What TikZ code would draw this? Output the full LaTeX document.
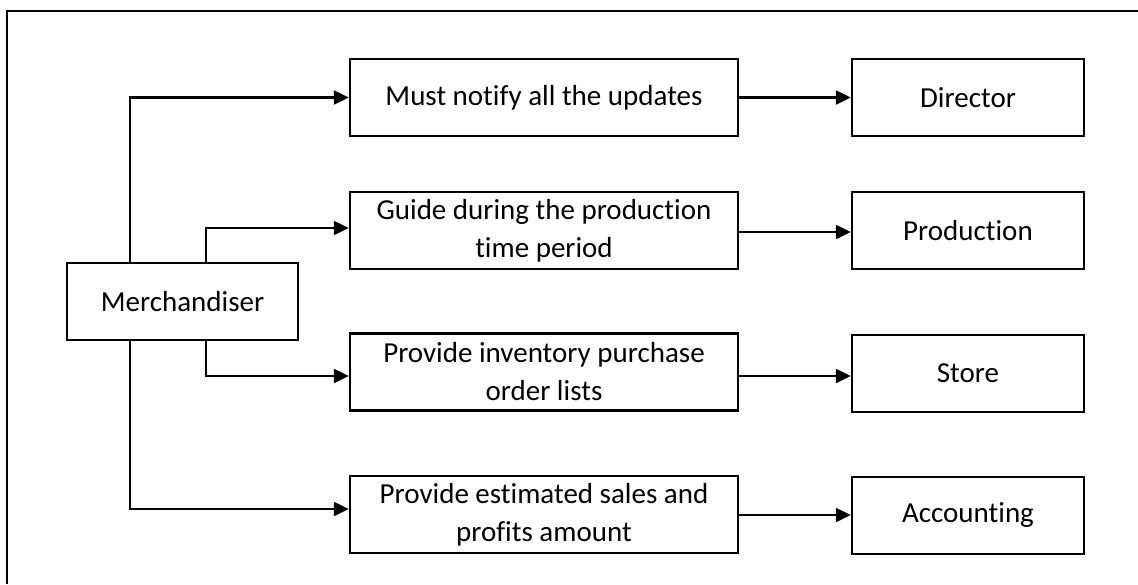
\documentclass[tikz,border=0pt]{standalone}
\usepackage{fontspec}
\setmainfont{Carlito}[Ligatures={NoCommon}]
\usetikzlibrary{arrows.meta}
\begin{document}
\begin{tikzpicture}[x=1pt,y=-1pt,
  box/.style={draw=black,line width=2.5pt,minimum height=77pt,inner sep=0pt,align=center,
    font=\fontsize{29}{38}\selectfont},
  midbox/.style={box,minimum width=388pt},
  endbox/.style={box,minimum width=232pt},
  arr/.style={draw=black,line width=2.5pt,-{Triangle[length=15pt,width=14pt]}}]
\useasboundingbox (0,0) rectangle (1138,584);
\draw[line width=2.5pt] (7,584) -- (7,11) -- (1138,11);
\node[box,minimum width=231pt] (m) at (182.5,301.5) {Merchandiser};
\node[midbox] (b1) at (544,97.5) {Must notify all the updates};
\node[midbox] (b2) at (544,230.5) {Guide during the production\\time period};
\node[midbox] (b3) at (544,372) {Provide inventory purchase\\order lists};
\node[midbox] (b4) at (544,514.5) {Provide estimated sales and\\profits amount};
\node[endbox] (d) at (968,97.5) {Director};
\node[endbox] (p) at (968,230.5) {Production};
\node[endbox] (s) at (968,373.5) {Store};
\node[endbox] (a) at (968,515.5) {Accounting};
\coordinate (v1) at (130,0);
\coordinate (v2) at (206,0);
\coordinate (y2) at (0,228);
\coordinate (y3) at (0,376);
\coordinate (y4) at (0,509);
\coordinate (z2) at (0,232);
\coordinate (z4) at (0,515);
\draw[arr] (v1 |- m.north) |- (b1.west);
\draw[arr] (v2 |- m.north) |- (b2.west |- y2);
\draw[arr] (v2 |- m.south) |- (b3.west |- y3);
\draw[arr] (v1 |- m.south) |- (b4.west |- y4);
\draw[arr] (b1.east) -- (d.west);
\draw[arr] (b2.east |- z2) -- (p.west |- z2);
\draw[arr] (b3.east |- y3) -- (s.west |- y3);
\draw[arr] (b4.east |- z4) -- (a.west |- z4);
\end{tikzpicture}
\end{document}
